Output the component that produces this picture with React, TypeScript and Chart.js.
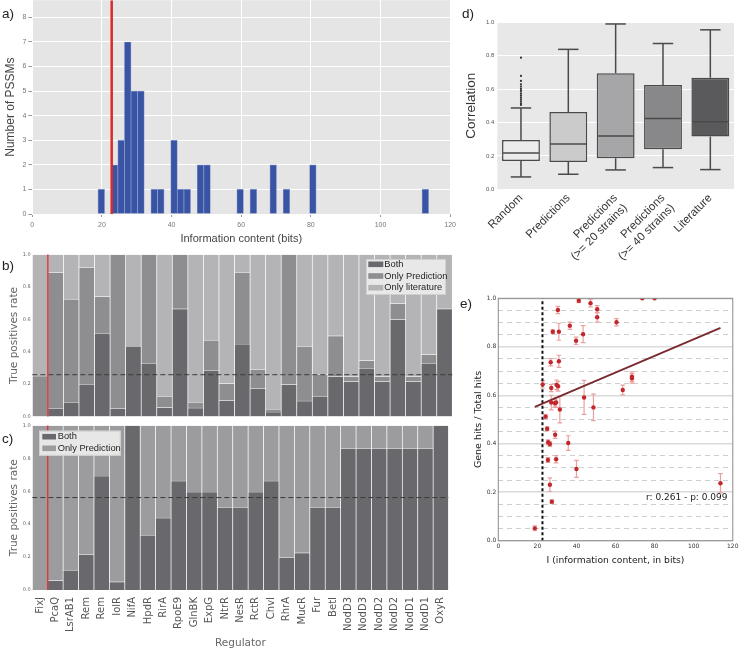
import React, { useEffect, useRef } from 'react';
import { Chart, registerables } from 'chart.js';

Chart.register(...registerables);
Chart.defaults.font.family = "'DejaVu Sans', sans-serif";

// ---------------- Panel a: histogram of information content ----------------
const histBinStart = 18.86;
const histBinWidth = 1.899;
const histCounts = [
  1, 0, 2, 3, 7, 5, 5, 0, 1, 1,
  0, 3, 1, 1, 0, 2, 2, 0, 0, 0,
  0, 1, 0, 1, 0, 0, 2, 0, 1, 0,
  0, 0, 2, 0, 0, 0, 0, 0, 0, 0,
  0, 0, 0, 0, 0, 0, 0, 0, 0, 1,
];
const icThreshold = 22.8;
const histYMax = 8.7;

// ---------------- Panels b, c: true positive rates per regulator ----------------
const regulators = ['FixJ', 'PcaQ', 'LsrAB1', 'Rem', 'Rem', 'IolR', 'NifA', 'HpdR', 'RirA', 'RpoE9', 'GlnBK', 'ExpG', 'NtrR', 'NesR', 'RctR', 'ChvI', 'RhrA', 'MucR', 'Fur', 'BetI', 'NodD3', 'NodD3', 'NodD2', 'NodD2', 'NodD1', 'NodD1', 'OxyR'];
const bBoth = [0, 0.05, 0.085, 0.2, 0.515, 0.05, 0.435, 0.33, 0.055, 0.665, 0.053, 0.283, 0.1, 0.443, 0.173, 0.028, 0.197, 0.096, 0.126, 0.248, 0.217, 0.295, 0.217, 0.6, 0.217, 0.33, 0.665];
const bOnlyPrediction = [0.25, 0.84, 0.64, 0.72, 0.225, 0.95, 0, 0.67, 0.067, 0.335, 0.036, 0.189, 0.103, 0.445, 0.116, 0.017, 0.803, 0.335, 0.132, 0.25, 0.031, 0.05, 0.031, 0.099, 0.031, 0.054, 0];
const bOnlyLiterature = [0.75, 0.11, 0.275, 0.08, 0.26, 0, 0.565, 0, 0.878, 0, 0.911, 0.528, 0.797, 0.112, 0.711, 0.955, 0, 0.569, 0.742, 0.502, 0.752, 0.655, 0.752, 0.301, 0.752, 0.616, 0.335];
const bMean = 0.258;
const cBoth = [0, 0.057, 0.121, 0.216, 0.693, 0.05, 1.0, 0.333, 0.438, 0.663, 0.596, 0.596, 0.5, 0.5, 0.596, 0.663, 0.198, 0.226, 0.5, 0.5, 0.859, 0.859, 0.859, 0.859, 0.859, 0.859, 1.0];
const cOnlyPrediction = [1.0, 0.943, 0.879, 0.784, 0.307, 0.95, 0, 0.667, 0.562, 0.337, 0.404, 0.404, 0.5, 0.5, 0.404, 0.337, 0.802, 0.774, 0.5, 0.5, 0.141, 0.141, 0.141, 0.141, 0.141, 0.141, 0];
const cMean = 0.562;
const thresholdIndex = 0.5; // between FixJ and PcaQ

// ---------------- Panel d: correlation box plots ----------------
const corrGroups: any[] = ['Random', 'Predictions', ['Predictions', '(>= 20 strains)'], ['Predictions', '(>= 40 strains)'], 'Literature'];
const corrLow = [0.074, 0.09, 0.116, 0.13, 0.118];
const corrQ1 = [0.17, 0.164, 0.186, 0.24, 0.316];
const corrMedian = [0.218, 0.271, 0.319, 0.424, 0.405];
const corrQ3 = [0.295, 0.463, 0.695, 0.625, 0.668];
const corrHigh = [0.487, 0.838, 0.99, 0.873, 0.955];
const randomOutliers = [0.505, 0.515, 0.527, 0.539, 0.551, 0.563, 0.575, 0.589, 0.601, 0.615, 0.629, 0.649, 0.679, 0.788];

// ---------------- Panel e: gene hits vs information content ----------------
const eIC = [18.7, 22.7, 24.2, 25.0, 25.5, 26.4, 25.4, 26.4, 27.4, 26.8, 27.1, 27.1, 27.9, 29.0, 29.1, 29.6, 29.6, 29.8, 30.5, 30.6, 31.0, 31.0, 31.5, 35.8, 36.6, 39.8, 40.0, 41.2, 43.4, 43.9, 47.2, 48.7, 50.6, 50.6, 60.5, 63.7, 68.4, 68.4, 73.7, 80.0, 113.7];
const eRatio = [0.051, 0.645, 0.512, 0.462, 0.406, 0.399, 0.333, 0.231, 0.161, 0.736, 0.63, 0.57, 0.862, 0.567, 0.437, 0.336, 0.57, 0.643, 0.952, 0.637, 0.862, 0.74, 0.541, 0.403, 0.887, 0.825, 0.296, 0.99, 0.852, 0.591, 0.98, 0.55, 0.955, 0.922, 0.901, 0.622, 0.677, 0.67, 1.0, 1.0, 0.237];
const eErr = [0.01, 0.015, 0.008, 0.008, 0.01, 0.01, 0.01, 0.028, 0.008, 0.015, 0.015, 0.03, 0.008, 0.015, 0.015, 0.015, 0.02, 0.02, 0.015, 0.02, 0.035, 0.025, 0.055, 0.03, 0.015, 0.015, 0.035, 0.008, 0.035, 0.07, 0.015, 0.055, 0.015, 0.02, 0.015, 0.02, 0.02, 0.02, 0, 0, 0.04];
const fitX = [18.7, 113.7];
const fitY = [0.552, 0.878];
const eThreshold = 22.6;
const corrText = 'r: 0.261 - p: 0.099';

// ---------------- layout helpers ----------------
type Rect = { left: number; top: number; width: number; height: number };
type Area = { l: number; t: number; r: number; b: number };

const A_BOX: Rect = { left: 0, top: -6, width: 460, height: 254 };
const A_AREA: Area = { l: 32.3, t: 0, r: 452.3, b: 214 };
const B_BOX: Rect = { left: 0, top: 250, width: 460, height: 171.3 };
const B_AREA: Area = { l: 32.3, t: 253.3, r: 452.3, b: 417.3 };
const C_BOX: Rect = { left: 0, top: 421, width: 460, height: 230 };
const C_AREA: Area = { l: 32.3, t: 425, r: 452.3, b: 590 };
const D_BOX: Rect = { left: 440, top: 0, width: 301, height: 262 };
const D_AREA: Area = { l: 497.3, t: 22.3, r: 734, b: 189.3 };
const E_BOX: Rect = { left: 440, top: 272, width: 301, height: 300 };
const E_AREA: Area = { l: 498.3, t: 298.3, r: 733.3, b: 540.7 };

function frame(box: Rect, area: Area) {
  return {
    padding: { left: 0, top: area.t - box.top, right: box.left + box.width - area.r, bottom: 0 },
    fitY: (s: any) => { s.width = area.l - box.left; },
    fitX: (s: any) => { s.height = box.top + box.height - area.b; },
  };
}

const plotBg = (color: string) => ({
  id: 'plotBg',
  beforeDraw(chart: any) {
    const { ctx, chartArea: a } = chart;
    ctx.save();
    ctx.fillStyle = color;
    ctx.fillRect(a.left, a.top, a.right - a.left, a.bottom - a.top);
    ctx.restore();
  },
});

function boxLegend(box: { x: number; y: number; w: number; h: number }, rowYs: number[], swX: number, swW: number, textX: number) {
  return {
    id: 'boxLegend',
    afterDraw(chart: any) {
      const ctx = chart.ctx;
      ctx.save();
      ctx.fillStyle = 'rgba(233,233,233,0.97)';
      ctx.fillRect(box.x, box.y, box.w, box.h);
      ctx.strokeStyle = '#d0d0d0';
      ctx.lineWidth = 1;
      ctx.strokeRect(box.x + 0.5, box.y + 0.5, box.w - 1, box.h - 1);
      ctx.font = '9.3px "Liberation Sans"';
      ctx.textBaseline = 'middle';
      ctx.textAlign = 'left';
      chart.data.datasets.forEach((ds: any, i: number) => {
        const yy = rowYs[i];
        ctx.fillStyle = ds.backgroundColor;
        ctx.fillRect(box.x + swX, yy - 2.8, swW, 5.6);
        ctx.fillStyle = '#1e1e1e';
        ctx.fillText(ds.label, box.x + textX, yy);
      });
      ctx.restore();
    },
  };
}

const refLines = (mean: number) => ({
  id: 'refLines',
  afterDatasetsDraw(chart: any) {
    const { ctx, chartArea: a, scales } = chart;
    const y = scales.y.getPixelForValue(mean);
    ctx.save();
    ctx.strokeStyle = '#3a3a3a';
    ctx.lineWidth = 1;
    ctx.setLineDash([5, 3]);
    ctx.beginPath(); ctx.moveTo(a.left, y); ctx.lineTo(a.right, y); ctx.stroke();
    ctx.setLineDash([]);
    const x = scales.x.getPixelForValue(thresholdIndex);
    ctx.strokeStyle = '#d63b3b';
    ctx.lineWidth = 1.5;
    ctx.beginPath(); ctx.moveTo(x, a.top); ctx.lineTo(x, a.bottom); ctx.stroke();
    ctx.restore();
  },
});

// ---------------- configs ----------------
function configA(): any {
  const f = frame(A_BOX, A_AREA);
  return {
    type: 'bar',
    data: {
      datasets: [
        {
          type: 'bar', label: 'PSSMs',
          data: histCounts.map((c, i) => ({ x: histBinStart + (i + 0.5) * histBinWidth, y: c })),
          backgroundColor: '#3a54a4', borderColor: '#8d9dd4', borderWidth: 0.7,
          barPercentage: 1, categoryPercentage: 1, order: 2,
        },
        {
          type: 'line', label: 'threshold',
          data: [{ x: icThreshold, y: 0 }, { x: icThreshold, y: histYMax }],
          borderColor: '#dc2a2a', borderWidth: 2.5, pointRadius: 0, order: 1,
        },
      ],
    },
    options: {
      responsive: false, animation: false,
      layout: { padding: f.padding },
      plugins: { legend: { display: false }, tooltip: { enabled: false } },
      scales: {
        x: {
          type: 'linear', min: 0, max: 120, offset: false,
          ticks: { stepSize: 20, font: { family: 'Liberation Sans', size: 7 }, color: '#777', padding: 4 },
          grid: { color: '#ffffff', lineWidth: 1, offset: false, drawTicks: true, tickLength: 3, tickColor: '#999' },
          border: { display: false },
          title: { display: true, text: 'Information content (bits)', font: { family: 'Liberation Sans', size: 11 }, color: '#444', padding: { top: 0, bottom: 2.9 } },
          afterFit: f.fitX,
        },
        y: {
          min: 0, max: histYMax,
          ticks: { stepSize: 1, includeBounds: false, font: { family: 'Liberation Sans', size: 7 }, color: '#777', padding: 2 },
          grid: { color: '#ffffff', lineWidth: 1, drawTicks: true, tickLength: 4, tickColor: '#999' },
          border: { display: false },
          title: { display: true, text: 'Number of PSSMs', font: { family: 'Liberation Sans', size: 12 }, color: '#444', padding: { top: 3.8, bottom: 0 } },
          afterFit: f.fitY,
        },
      },
    },
    plugins: [plotBg('#e5e5e5')],
  };
}

function stackedBarDs(label: string, data: number[], color: string) {
  return {
    label, data, backgroundColor: color,
    borderColor: 'rgba(255,255,255,0.35)', borderWidth: 0.7,
    barPercentage: 1, categoryPercentage: 1,
  };
}

function configB(): any {
  const f = frame(B_BOX, B_AREA);
  return {
    type: 'bar',
    data: {
      labels: regulators,
      datasets: [
        stackedBarDs('Both', bBoth, '#69696d'),
        stackedBarDs('Only Prediction', bOnlyPrediction, '#8e8e91'),
        stackedBarDs('Only literature', bOnlyLiterature, '#b4b4b6'),
      ],
    },
    options: {
      responsive: false, animation: false,
      layout: { padding: f.padding },
      plugins: { legend: { display: false }, tooltip: { enabled: false } },
      scales: {
        x: {
          stacked: true,
          ticks: { display: false },
          grid: { display: false, drawTicks: false },
          border: { display: false },
          afterFit: f.fitX,
        },
        y: {
          stacked: true, min: 0, max: 1,
          ticks: { stepSize: 0.2, font: { size: 5 }, color: '#666', padding: 1.5, callback: (v: any) => Number(v).toFixed(1) },
          grid: { display: false, drawTicks: false },
          border: { display: false },
          title: { display: true, text: 'True positives rate', font: { size: 10.5 }, color: '#666', padding: { top: 8, bottom: 0 } },
          afterFit: f.fitY,
        },
      },
    },
    plugins: [
      refLines(bMean),
      boxLegend({ x: 366 - B_BOX.left, y: 259 - B_BOX.top, w: 80, h: 36 }, [14.3, 26, 37.7], 2.3, 15, 18.3),
    ],
  };
}

function configC(): any {
  const f = frame(C_BOX, C_AREA);
  return {
    type: 'bar',
    data: {
      labels: regulators,
      datasets: [
        stackedBarDs('Both', cBoth, '#69696d'),
        stackedBarDs('Only Prediction', cOnlyPrediction, '#9c9c9f'),
      ],
    },
    options: {
      responsive: false, animation: false,
      layout: { padding: f.padding },
      plugins: { legend: { display: false }, tooltip: { enabled: false } },
      scales: {
        x: {
          stacked: true,
          ticks: { font: { size: 10 }, color: '#555', minRotation: 90, maxRotation: 90, autoSkip: false, padding: 7 },
          grid: { display: false, drawTicks: false },
          border: { display: false },
          title: { display: true, text: 'Regulator', font: { size: 10.5 }, color: '#666', padding: { top: 0, bottom: 1.4 } },
          afterFit: f.fitX,
        },
        y: {
          stacked: true, min: 0, max: 1,
          ticks: { stepSize: 0.2, font: { size: 5 }, color: '#666', padding: 1.5, callback: (v: any) => Number(v).toFixed(1) },
          grid: { display: false, drawTicks: false },
          border: { display: false },
          title: { display: true, text: 'True positives rate', font: { size: 10.5 }, color: '#666', padding: { top: 8, bottom: 0 } },
          afterFit: f.fitY,
        },
      },
    },
    plugins: [
      refLines(cMean),
      boxLegend({ x: 39 - C_BOX.left, y: 430.7 - C_BOX.top, w: 81.7, h: 25 }, [15.7, 27.3], 3.3, 13.7, 18.7),
    ],
  };
}

function configD(): any {
  const f = frame(D_BOX, D_AREA);
  const whiskers = {
    id: 'whiskers',
    afterDatasetsDraw(chart: any) {
      const meta = chart.getDatasetMeta(0);
      const y = chart.scales.y;
      const ctx = chart.ctx;
      const seg = (x1: number, y1: number, x2: number, y2: number) => {
        ctx.beginPath(); ctx.moveTo(x1, y1); ctx.lineTo(x2, y2); ctx.stroke();
      };
      ctx.save();
      ctx.strokeStyle = '#4a4a4a';
      ctx.lineWidth = 1.5;
      meta.data.forEach((el: any, i: number) => {
        const cx = el.x;
        const w = el.width;
        const pLow = y.getPixelForValue(corrLow[i]);
        const pQ1 = y.getPixelForValue(corrQ1[i]);
        const pMed = y.getPixelForValue(corrMedian[i]);
        const pQ3 = y.getPixelForValue(corrQ3[i]);
        const pHigh = y.getPixelForValue(corrHigh[i]);
        seg(cx, pQ1, cx, pLow);
        seg(cx, pQ3, cx, pHigh);
        seg(cx - w * 0.27, pLow, cx + w * 0.27, pLow);
        seg(cx - w * 0.27, pHigh, cx + w * 0.27, pHigh);
        seg(cx - w / 2 + 1, pMed, cx + w / 2 - 1, pMed);
      });
      ctx.restore();
    },
  };
  return {
    type: 'bar',
    data: {
      labels: corrGroups,
      datasets: [
        {
          type: 'bar', label: 'IQR',
          data: corrQ1.map((q, i) => [q, corrQ3[i]]),
          backgroundColor: ['#ececec', '#cbcbcb', '#a6a6a8', '#88888a', '#5a5a5c'],
          borderColor: '#4a4a4a', borderWidth: 1.5, borderSkipped: false,
          barPercentage: 0.8, categoryPercentage: 1, order: 2,
        },
        {
          type: 'scatter', label: 'outliers',
          data: randomOutliers.map((v) => ({ x: 'Random', y: v })),
          pointRadius: 1.1, pointBackgroundColor: '#333', pointBorderWidth: 0, order: 1,
        },
      ],
    },
    options: {
      responsive: false, animation: false,
      layout: { padding: f.padding },
      plugins: { legend: { display: false }, tooltip: { enabled: false } },
      scales: {
        x: {
          type: 'category',
          ticks: { font: { family: 'Liberation Sans', size: 11.5 }, color: '#333', minRotation: 45, maxRotation: 45, autoSkip: false, padding: 2 },
          grid: { display: false, drawTicks: false },
          border: { display: false },
          afterFit: f.fitX,
        },
        y: {
          min: 0, max: 1,
          ticks: { stepSize: 0.2, font: { family: 'Liberation Sans', size: 6 }, color: '#555', padding: 3, callback: (v: any) => Number(v).toFixed(1) },
          grid: { color: '#ffffff', lineWidth: 1, drawTicks: false },
          border: { display: false },
          title: { display: true, text: 'Correlation', font: { family: 'Liberation Sans', size: 13.5 }, color: '#333', padding: { top: 23.6, bottom: 0 } },
          afterFit: f.fitY,
        },
      },
    },
    plugins: [plotBg('#e8e8e8'), whiskers],
  };
}

function configE(): any {
  const f = frame(E_BOX, E_AREA);
  const errorBars = {
    id: 'errorBars',
    beforeDatasetsDraw(chart: any) {
      const { ctx, scales } = chart;
      ctx.save();
      ctx.strokeStyle = '#eaa0a0';
      ctx.lineWidth = 1.2;
      eIC.forEach((xv, i) => {
        if (!eErr[i]) return;
        const px = scales.x.getPixelForValue(xv);
        const y1 = scales.y.getPixelForValue(eRatio[i] - eErr[i]);
        const y2 = scales.y.getPixelForValue(Math.min(1, eRatio[i] + eErr[i]));
        ctx.beginPath();
        ctx.moveTo(px, y1); ctx.lineTo(px, y2);
        ctx.moveTo(px - 2.3, y1); ctx.lineTo(px + 2.3, y1);
        ctx.moveTo(px - 2.3, y2); ctx.lineTo(px + 2.3, y2);
        ctx.stroke();
      });
      ctx.restore();
    },
  };
  const overlay = {
    id: 'overlay',
    afterDatasetsDraw(chart: any) {
      const { ctx, chartArea: a, scales } = chart;
      ctx.save();
      ctx.strokeStyle = '#8c8c8c';
      ctx.lineWidth = 1;
      ctx.strokeRect(a.left, a.top, a.right - a.left, a.bottom - a.top);
      ctx.fillStyle = '#222';
      ctx.font = "9px 'DejaVu Sans'";
      ctx.textAlign = 'right';
      ctx.textBaseline = 'middle';
      ctx.fillText(corrText, scales.x.getPixelForValue(117.3), scales.y.getPixelForValue(0.176));
      ctx.restore();
    },
  };
  const isMajor = (v: number) => Math.abs(v / 0.2 - Math.round(v / 0.2)) < 1e-6;
  return {
    type: 'scatter',
    data: {
      datasets: [
        {
          label: 'PSSMs',
          data: eIC.map((x, i) => ({ x, y: eRatio[i] })),
          pointRadius: 2.2, pointBackgroundColor: '#c1272d', pointBorderWidth: 0, order: 1,
        },
        {
          type: 'line', label: 'fit',
          data: fitX.map((x, i) => ({ x, y: fitY[i] })),
          borderColor: '#7a2a2f', borderWidth: 1.8, pointRadius: 0, order: 2,
        },
        {
          type: 'line', label: 'threshold',
          data: [{ x: eThreshold, y: 0 }, { x: eThreshold, y: 1 }],
          borderColor: '#111', borderWidth: 2, borderDash: [3, 2.5], pointRadius: 0, order: 3,
        },
      ],
    },
    options: {
      responsive: false, animation: false,
      layout: { padding: f.padding },
      plugins: { legend: { display: false }, tooltip: { enabled: false } },
      scales: {
        x: {
          type: 'linear', min: 0, max: 120,
          ticks: { stepSize: 20, font: { size: 6 }, color: '#333', padding: 2.5 },
          grid: { drawOnChartArea: false, drawTicks: false },
          border: { display: false },
          title: { display: true, text: 'I (information content, in bits)', font: { size: 9.2 }, color: '#222', padding: { top: 0, bottom: 5.8 } },
          afterFit: f.fitX,
        },
        y: {
          min: 0, max: 1,
          ticks: { stepSize: 0.2, font: { size: 6 }, color: '#333', padding: 2, callback: (v: any) => Number(v).toFixed(1) },
          grid: { color: '#dadada', lineWidth: 1.5, drawTicks: false },
          border: { display: false },
          title: { display: true, text: 'Gene hits / Total hits', font: { size: 9.5 }, color: '#222', padding: { top: 32.6, bottom: 0 } },
          afterFit: f.fitY,
        },
        yMinor: {
          position: 'left', min: 0, max: 1,
          ticks: { stepSize: 0.05, display: false },
          grid: {
            color: (c: any) => (c.tick && isMajor(c.tick.value) ? 'rgba(0,0,0,0)' : '#cfcfcf'),
            lineWidth: 1, drawTicks: false,
          },
          border: { display: false, dash: [5, 4] },
          afterFit: (s: any) => { s.width = 0; },
        },
      },
    },
    plugins: [errorBars, overlay],
  };
}

const letterStyle = (left: number, top: number): React.CSSProperties => ({
  position: 'absolute', left, top, fontFamily: "'Liberation Sans', Arial, sans-serif",
  fontSize: 13.5, lineHeight: '13.5px', color: '#222',
});

export default function App() {
  const aRef = useRef<HTMLCanvasElement>(null);
  const bRef = useRef<HTMLCanvasElement>(null);
  const cRef = useRef<HTMLCanvasElement>(null);
  const dRef = useRef<HTMLCanvasElement>(null);
  const eRef = useRef<HTMLCanvasElement>(null);

  useEffect(() => {
    const charts: Chart[] = [];
    charts.push(new Chart(aRef.current as HTMLCanvasElement, configA()));
    charts.push(new Chart(bRef.current as HTMLCanvasElement, configB()));
    charts.push(new Chart(cRef.current as HTMLCanvasElement, configC()));
    charts.push(new Chart(dRef.current as HTMLCanvasElement, configD()));
    charts.push(new Chart(eRef.current as HTMLCanvasElement, configE()));
    return () => charts.forEach((c) => c.destroy());
  }, []);

  const cv = (box: Rect): React.CSSProperties => ({ position: 'absolute', left: box.left, top: box.top, width: box.width, height: box.height });

  return (
    <div style={{ position: 'fixed', left: 0, top: 0, width: 741, height: 651, background: '#fff', overflow: 'hidden' }}>
      <canvas ref={aRef} width={A_BOX.width} height={A_BOX.height} style={cv(A_BOX)} />
      <canvas ref={bRef} width={B_BOX.width} height={B_BOX.height} style={cv(B_BOX)} />
      <canvas ref={cRef} width={C_BOX.width} height={C_BOX.height} style={cv(C_BOX)} />
      <canvas ref={dRef} width={D_BOX.width} height={D_BOX.height} style={cv(D_BOX)} />
      <canvas ref={eRef} width={E_BOX.width} height={E_BOX.height} style={cv(E_BOX)} />
      <div style={letterStyle(2, 6.8)}>a)</div>
      <div style={letterStyle(2, 258.6)}>b)</div>
      <div style={letterStyle(2, 431.5)}>c)</div>
      <div style={letterStyle(462, 6.8)}>d)</div>
      <div style={letterStyle(460, 296.5)}>e)</div>
    </div>
  );
}
